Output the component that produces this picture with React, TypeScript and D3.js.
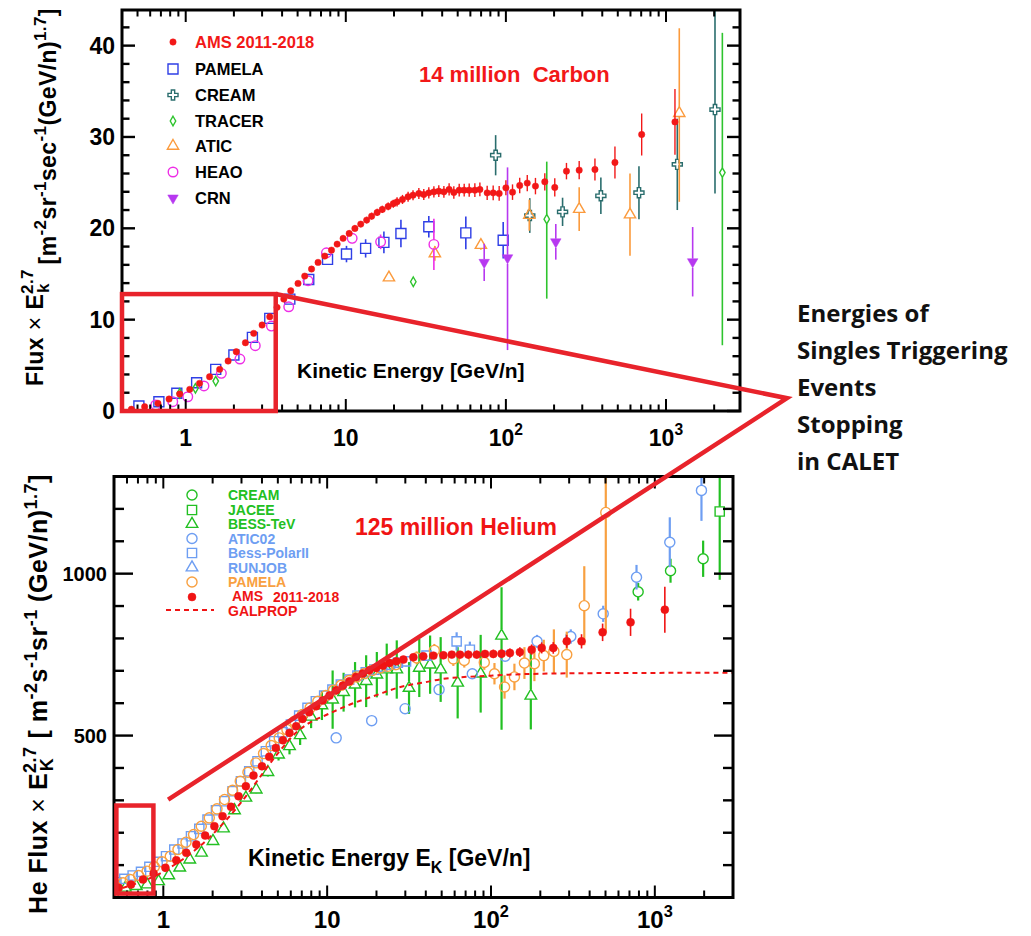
import * as d3 from "d3";

type Pt = number[]; // [energy GeV/n, flux, errLow, errHigh?]
type Shape = "dot" | "square" | "circle" | "triangle" | "triangleDown" | "diamond" | "cross" | "none";

// ---------- Carbon panel ----------
const carbonAms: Pt[] = [
  [0.458, 0.19, 0.05], [0.554, 0.47, 0.05], [0.671, 0.84, 0.06], [0.787, 1.31, 0.07], [0.917, 1.86, 0.08],
  [1.06, 2.37, 0.09], [1.22, 3.03, 0.1], [1.41, 3.75, 0.1], [1.63, 4.56, 0.12], [1.84, 5.47, 0.12],
  [2.07, 6.49, 0.13], [2.36, 7.47, 0.14], [2.66, 8.5, 0.15], [3.0, 9.41, 0.16], [3.35, 10.32, 0.17],
  [3.72, 11.35, 0.18], [4.1, 12.25, 0.2], [4.53, 13.16, 0.2], [5.03, 13.97, 0.22], [5.54, 14.77, 0.22],
  [6.11, 15.54, 0.24], [6.71, 16.27, 0.25], [7.39, 16.96, 0.26], [8.14, 17.61, 0.28], [8.83, 18.27, 0.3],
  [9.62, 18.9, 0.3], [10.5, 19.44, 0.32], [11.4, 19.99, 0.34], [12.4, 20.46, 0.35], [13.5, 20.9, 0.36],
  [14.5, 21.33, 0.38], [15.7, 21.74, 0.4], [16.9, 22.07, 0.4], [18.4, 22.4, 0.42], [19.8, 22.7, 0.44],
  [20.9, 22.9, 0.5], [22.6, 23.16, 0.5], [24.5, 23.45, 0.55], [26.3, 23.63, 0.55], [28.6, 23.82, 0.6],
  [30.7, 23.7, 0.6], [33.0, 23.88, 0.62], [35.5, 23.99, 0.62], [38.1, 24.07, 0.64], [41.0, 23.99, 0.65],
  [44.2, 24.26, 0.66], [47.3, 23.93, 0.68], [51.1, 24.18, 0.7], [54.9, 24.18, 0.7], [59.0, 24.18, 0.72],
  [64.0, 24.18, 0.74], [68.8, 24.26, 0.75], [76.4, 23.88, 0.78], [83.3, 23.88, 0.8], [90.8, 23.82, 0.8],
  [100, 24.43, 0.82], [110, 23.96, 0.85], [122, 24.69, 0.85], [136, 24.95, 0.88], [153, 24.62, 0.9],
  [175, 25.09, 0.95], [202, 24.48, 1.0], [239, 26.26, 0.9], [287, 26.37, 1.0], [360, 26.44, 1.2],
  [480, 27.21, 1.75], [705, 30.27, 2.3], [1138, 31.65, 3.6],
];
const carbonPamela: Pt[] = [
  [0.51, 0.55, 0.1], [0.68, 1.02, 0.1], [0.88, 1.94, 0.12], [1.17, 3.1, 0.15], [1.54, 4.56, 0.2],
  [2.0, 6.13, 0.25], [2.61, 8.06, 0.3], [3.35, 10.14, 0.35], [4.47, 12.25, 0.4], [5.87, 14.4, 0.45],
  [7.69, 16.6, 0.55], [10.1, 17.18, 0.9], [13.3, 17.8, 1.0], [17.3, 18.46, 1.2], [22.1, 19.44, 1.5],
  [33.0, 20.17, 1.17], [56.2, 19.5, 1.8], [96.2, 18.7, 2.0],
];
const carbonCream: Pt[] = [
  [86.3, 28.0, 2.2], [141, 21.4, 1.9], [226, 21.8, 1.55], [392, 23.56, 2.0], [678, 23.9, 2.9],
  [1177, 27.0, 5.0], [2024, 33.0, 9.2, 12],
];
const carbonTracer: Pt[] = [
  [0.917, 1.94, 0], [1.15, 2.48, 0], [1.54, 3.28, 0], [26.4, 14.15, 0], [180, 21.0, 8.7, 6.3], [2250, 26.1, 18.9, 15.3],
];
const carbonAtic: Pt[] = [
  [18.6, 14.6, 0.3], [36, 17.25, 0.8], [69.8, 18.16, 0.5], [140, 21.44, 1.7], [287, 22.1, 2.4],
  [596, 21.5, 4.5], [1211, 32.6, 9.7, 9.3],
];
const carbonHeao: Pt[] = [
  [0.65, 0.66, 0], [0.83, 1.02, 0], [1.03, 1.56, 0], [1.3, 2.74, 0.1], [1.67, 4.12, 0.12], [2.18, 5.69, 0.15],
  [2.72, 7.15, 0.2], [3.43, 9.3, 0.25], [4.4, 11.41, 0.3], [5.81, 14.26, 0.35], [7.57, 17.32, 0.45],
  [10.96, 18.9, 0.55], [16.5, 18.52, 0.8], [35.5, 18.24, 2.8],
];
const carbonCrn: Pt[] = [
  [73.2, 16.27, 2.05], [102.4, 16.77, 10.1, 9.9], [205, 18.52, 1.95], [1468, 16.34, 3.8],
];

// ---------- Helium panel ----------
const heCream: Pt[] = [[791, 944, 27], [1247, 1009, 37], [1972, 1046, 56]];
const heJacee: Pt[] = [[2489, 1192, 211, 150]];
const heBessTev: Pt[] = [
  [0.498, 9.3, 2], [0.587, 30, 2], [0.684, 35, 2], [0.796, 40, 2], [0.936, 50, 3], [1.08, 68, 3],
  [1.26, 92, 4], [1.45, 117, 4], [1.71, 138, 5], [2.01, 174, 6], [2.33, 213, 7], [2.72, 269, 8],
  [3.19, 308, 10], [3.69, 333, 11], [4.35, 387, 13], [5.05, 441, 18], [5.89, 467, 25], [6.84, 501, 30],
  [7.98, 558, 35], [9.29, 593, 45], [10.8, 611, 90], [12.6, 634, 60], [14.8, 657, 70], [17.3, 668, 80],
  [20.1, 688, 70], [23.1, 704, 80], [26.6, 704, 90], [31.6, 647, 80], [36.5, 709, 90], [42.5, 719, 90],
  [49.3, 704, 100], [62.6, 663, 110], [86.5, 691, 120], [116, 808, 290, 150], [175, 623, 104, 137],
];
const heAtic02: Pt[] = [
  [11.35, 493, 8], [18.7, 546, 8], [29.9, 583, 10], [48.2, 642, 12], [76.9, 691, 14], [122, 745, 16],
  [191, 791, 20], [307, 806, 22], [484, 876, 25], [773, 989, 38], [1234, 1097, 77], [1926, 1257, 94, 60],
];
const heBessPolar: Pt[] = [
  [0.517, 47.2, 2], [0.578, 57.7, 2], [0.65, 67.9, 2], [0.731, 79.3, 2], [0.822, 94.8, 2], [0.923, 110.2, 2],
  [1.039, 127.5, 2], [1.167, 148.1, 3], [1.311, 166.7, 3], [1.476, 189.2, 3], [1.658, 212, 3], [1.862, 240.7, 4],
  [2.096, 269.4, 4], [2.355, 297.2, 4], [2.647, 328.1, 5], [2.977, 359, 5], [3.345, 389.8, 5], [3.758, 420.7, 6],
  [4.227, 451.5, 6], [4.75, 482.4, 6], [5.34, 510.2, 7], [6.01, 534, 7], [6.75, 561.7, 8], [7.59, 585.5, 8],
  [8.53, 605.9, 9], [9.59, 623.5, 9], [10.77, 642, 10], [12.12, 657.4, 10], [13.62, 672.8, 11], [15.3, 685.2, 11],
  [17.2, 695.4, 12], [19.4, 703.7, 12], [21.7, 713, 13], [24.2, 719, 14], [27.0, 725, 15], [30.3, 729, 16],
  [40.4, 747, 15], [61.7, 791, 28], [74.3, 765, 25],
];
const heRunjob: Pt[] = [];
const hePamela: Pt[] = [
  [0.51, 34.9, 3], [0.568, 45.3, 3], [0.629, 55.6, 3], [0.707, 67.9, 3], [0.796, 81.2, 3], [0.881, 94.8, 3],
  [0.982, 110.2, 3], [1.103, 127.5, 3], [1.229, 148.1, 3], [1.375, 170.7, 4], [1.53, 194.4, 4], [1.705, 220.1, 4],
  [1.908, 246, 4], [2.126, 273.8, 5], [2.365, 302.5, 5], [2.647, 331.2, 5], [2.948, 359, 5], [3.285, 386.7, 6],
  [3.673, 415.7, 6], [4.09, 444.4, 6], [4.555, 469.1, 7], [5.098, 492.9, 7], [5.68, 518.5, 8], [6.32, 544.1, 8],
  [7.07, 564.8, 9], [7.87, 585.5, 9], [8.77, 605.9, 10], [9.82, 623.5, 10], [10.93, 639.8, 11], [12.17, 655.2, 11],
  [13.62, 669.8, 12], [15.17, 681.2, 12], [16.88, 691.4, 13], [18.89, 701.5, 14], [21.04, 708.9, 15],
  [23.44, 713.9, 16], [26.23, 719.1, 17], [35.2, 740, 20], [45.1, 763, 20], [58.9, 737, 22], [68.7, 732, 22],
  [91.0, 726, 23], [105, 691, 33], [121, 650, 36], [139, 681, 41], [160, 724, 49], [184, 722, 54],
  [210, 747, 49], [242, 760, 68], [290, 750, 71], [371, 901, 122], [502, 1189, 370, 300],
];
const heAms: Pt[] = [
  [0.534, 29.9, 2], [0.635, 40.1, 2], [0.752, 55.6, 2], [0.873, 74.1, 2], [1.03, 91.7, 2], [1.2, 115.1, 3],
  [1.38, 138, 3], [1.59, 163.6, 3], [1.8, 191.4, 3], [2.05, 220.1, 4], [2.3, 250.9, 4], [2.59, 279.9, 4],
  [2.88, 312.7, 5], [3.19, 343.5, 5], [3.55, 376.5, 5], [4.0, 405.2, 6], [4.43, 434.3, 6], [4.86, 462, 6],
  [5.37, 485.5, 7], [5.89, 508.3, 7], [6.47, 528.7, 7], [7.07, 551.5, 8], [7.77, 571.9, 8], [8.57, 590.4, 8],
  [9.41, 608, 9], [10.33, 623.5, 9], [11.35, 639.8, 9], [12.47, 654.3, 10], [13.68, 667.6, 10], [15.03, 681.2, 10],
  [16.5, 691.4, 10], [18.1, 701.5, 10], [19.9, 708.9, 10], [21.9, 716, 10], [24.0, 724.4, 10], [26.4, 729.3, 10],
  [29.2, 734.6, 10], [33.6, 741.7, 10], [38.6, 744.8, 10], [44.5, 746.9, 10], [51.2, 747.8, 11], [57.6, 750, 11],
  [64.7, 750, 11], [72.7, 750, 12], [81.8, 750, 12], [91.9, 752.2, 12], [103.3, 752.2, 13], [116, 753, 13],
  [130.5, 755.2, 14], [150, 757.7, 15], [177, 765.4, 16], [204, 770.7, 17], [240, 770.7, 18], [290, 791, 20],
  [357, 791, 22], [480, 818.8, 27], [711, 849.7, 42], [1151, 888.9, 71],
];
const heGalprop: Pt[] = [
  [0.5, 22], [1, 80], [2, 195], [3, 295], [4, 380], [5, 445], [6.5, 510], [7.5, 534], [10, 565], [13.8, 596],
  [20, 625], [28, 650], [40, 665], [51, 675], [100, 685], [165, 690], [500, 693], [3000, 694],
];

// ---------- axes, annotations ----------
const xTickLabels = [1, 10, 100, 1000];
const carbonYTicks = [0, 10, 20, 30, 40];
const heliumYTicks = [500, 1000];
// zoom boxes and callout in data units of each panel
const carbonBox = { e0: 0.4, e1: 3.65, f0: 0, f1: 12.8 };
const heliumBox = { e0: 0.517, e1: 0.87, f0: 12, f1: 284 };
const calloutTip = [5700, 1.4]; // carbon panel units
const calloutEnd = [1.07, 302]; // helium panel units
const noteLines = ["Energies of", "Singles Triggering", "Events", "Stopping", "in CALET"];

const FONT = "'Liberation Sans', Arial, Helvetica, sans-serif";
const ANNOT = "#e8232b";

interface SeriesSpec { name: string; data: Pt[]; color: string; shape: Shape; size: number; filled?: boolean; bar: number }

const carbonSeries: SeriesSpec[] = [
  { name: "AMS 2011-2018", data: carbonAms, color: "#f21818", shape: "dot", size: 32, filled: true, bar: 1.4 },
  { name: "PAMELA", data: carbonPamela, color: "#2f3fe6", shape: "square", size: 100, bar: 1.6 },
  { name: "CREAM", data: carbonCream, color: "#2a6d6d", shape: "cross", size: 56, bar: 1.6 },
  { name: "TRACER", data: carbonTracer, color: "#2ec42e", shape: "diamond", size: 26, bar: 1.6 },
  { name: "ATIC", data: carbonAtic, color: "#fb9a3c", shape: "triangle", size: 55, bar: 1.6 },
  { name: "HEAO", data: carbonHeao, color: "#ee2ee6", shape: "circle", size: 72, bar: 1.6 },
  { name: "CRN", data: carbonCrn, color: "#b738f0", shape: "triangleDown", size: 48, filled: true, bar: 1.6 },
];
const heliumSeries: SeriesSpec[] = [
  { name: "CREAM", data: heCream, color: "#22c022", shape: "circle", size: 80, bar: 2.2 },
  { name: "JACEE", data: heJacee, color: "#22c022", shape: "square", size: 85, bar: 2.2 },
  { name: "BESS-TeV", data: heBessTev, color: "#22c022", shape: "triangle", size: 58, bar: 2.2 },
  { name: "ATIC02", data: heAtic02, color: "#6e9ef2", shape: "circle", size: 80, bar: 2.2 },
  { name: "Bess-PolarII", data: heBessPolar, color: "#6e9ef2", shape: "square", size: 85, bar: 2.2 },
  { name: "RUNJOB", data: heRunjob, color: "#6e9ef2", shape: "triangle", size: 58, bar: 2.2 },
  { name: "PAMELA", data: hePamela, color: "#f8a040", shape: "circle", size: 80, bar: 2.2 },
  { name: "AMS 2011-2018", data: heAms, color: "#f01414", shape: "dot", size: 50, filled: true, bar: 1.6 },
];

function symbolPath(shape: Shape, size: number) {
  const type =
    shape === "square" ? d3.symbolSquare
    : shape === "cross" ? d3.symbolCross
    : shape === "diamond" ? d3.symbolDiamond
    : shape === "triangle" || shape === "triangleDown" ? d3.symbolTriangle
    : d3.symbolCircle;
  return d3.symbol().type(type).size(size)() ?? "";
}

// half extent of a marker above / below its centre, so error bars stop at the outline
function markerGap(shape: Shape, size: number): [number, number] {
  if (shape === "square") return [Math.sqrt(size) / 2, Math.sqrt(size) / 2];
  if (shape === "cross") { const r = Math.sqrt(size / 5) / 2; return [3 * r, 3 * r]; }
  if (shape === "diamond") { const h = Math.sqrt(size / (2 * Math.tan(Math.PI / 6))); return [h, h]; }
  if (shape === "triangle" || shape === "triangleDown") {
    const t = Math.sqrt(size / (3 * Math.sqrt(3)));
    return shape === "triangle" ? [2 * t, t] : [t, 2 * t];
  }
  if (shape === "dot") return [0, 0];
  const r = Math.sqrt(size / Math.PI);
  return [r, r];
}

function Marker({ s, cx, cy }: { s: SeriesSpec; cx: number; cy: number }) {
  return (
    <path
      d={symbolPath(s.shape, s.size)}
      transform={`translate(${cx},${cy})${s.shape === "triangleDown" ? " rotate(180)" : ""}`}
      fill={s.filled ? s.color : "none"}
      stroke={s.color}
      strokeWidth={s.filled ? 0.5 : 1.4}
    />
  );
}

function SeriesMarks({ s, x, y }: { s: SeriesSpec; x: d3.ScaleLogarithmic<number, number>; y: d3.ScaleLinear<number, number> }) {
  const [gapUp, gapDown] = markerGap(s.shape, s.size);
  return (
    <g>
      {s.data.map((p, i) => {
        const [e, v, lo = 0, hi = lo] = p;
        const cx = x(e);
        const cy = y(v);
        const yTop = y(v + hi);
        const yBot = y(v - lo);
        return (
          <g key={i}>
            {cy - gapUp > yTop ? <line x1={cx} x2={cx} y1={yTop} y2={cy - gapUp} stroke={s.color} strokeWidth={s.bar} /> : null}
            {yBot > cy + gapDown ? <line x1={cx} x2={cx} y1={cy + gapDown} y2={yBot} stroke={s.color} strokeWidth={s.bar} /> : null}
            <Marker s={s} cx={cx} cy={cy} />
          </g>
        );
      })}
    </g>
  );
}

function logMinorTicks(domain: number[]) {
  const out: { v: number; major: boolean }[] = [];
  for (let k = -1; k <= 4; k++) {
    for (let m = 1; m <= 9; m++) {
      const v = m * Math.pow(10, k);
      if (v > domain[0] && v < domain[1]) out.push({ v, major: m === 1 });
    }
  }
  return out;
}

function Frame({ x, y, minorStep, majorStep, tick }: {
  x: d3.ScaleLogarithmic<number, number>; y: d3.ScaleLinear<number, number>; minorStep: number; majorStep: number;
  tick: { xMaj: number; xMin: number; yMaj: number; yMin: number };
}) {
  const [l, r] = x.range();
  const [b, t] = y.range();
  const xt = logMinorTicks(x.domain());
  const yt = d3.range(y.domain()[0], y.domain()[1] + 1e-9, minorStep).map((v) => ({ v, major: Math.abs(v / majorStep - Math.round(v / majorStep)) < 1e-6 }));
  return (
    <g stroke="#000" fill="none">
      {xt.map((d) => {
        const len = d.major ? tick.xMaj : tick.xMin;
        return (
          <g key={`x${d.v}`}>
            <line x1={x(d.v)} x2={x(d.v)} y1={b} y2={b - len} strokeWidth={2} />
            <line x1={x(d.v)} x2={x(d.v)} y1={t} y2={t + len} strokeWidth={2} />
          </g>
        );
      })}
      {yt.map((d) => {
        const len = d.major ? tick.yMaj : tick.yMin;
        return (
          <g key={`y${d.v}`}>
            <line x1={l} x2={l + len} y1={y(d.v)} y2={y(d.v)} strokeWidth={2.4} />
            <line x1={r} x2={r - len} y1={y(d.v)} y2={y(d.v)} strokeWidth={2.4} />
          </g>
        );
      })}
      <rect x={l} y={t} width={r - l} height={b - t} strokeWidth={3} />
    </g>
  );
}

function XLabels({ x, baseline, size }: { x: d3.ScaleLogarithmic<number, number>; baseline: number; size: number }) {
  return (
    <g fontFamily={FONT} fontWeight="bold" fontSize={size} textAnchor="middle" fill="#000">
      {xTickLabels.map((t) => (
        <text key={t} x={x(t)} y={baseline}>
          {t < 100 ? String(t) : (
            <>
              10<tspan dy={-11} fontSize={size * 0.68}>{Math.round(Math.log10(t))}</tspan>
            </>
          )}
        </text>
      ))}
    </g>
  );
}

export default function App() {
  const xC = d3.scaleLog().domain([0.4, 2900]).range([122, 740]);
  const yC = d3.scaleLinear().domain([0, 43.9]).range([411, 10]);
  const xH = d3.scaleLog().domain([0.5, 3000]).range([114, 733]);
  const yH = d3.scaleLinear().domain([0, 1300]).range([897.5, 476.5]);

  const galpropLine = d3.line<Pt>().x((p) => xH(p[0])).y((p) => yH(p[1])).curve(d3.curveMonotoneX);

  const ams = carbonSeries[0];
  const heAmsSpec = heliumSeries[heliumSeries.length - 1];

  const carbonLegendY = [42, 69, 95, 121, 146, 172, 198];
  const heliumLegendY = [495, 510, 524, 538.5, 553, 567.5, 582, 597];

  return (
    <div style={{ position: "absolute", left: 0, top: 0, width: 1031, height: 936, background: "#fff" }}>
      <svg width={1031} height={936} viewBox="0 0 1031 936" style={{ display: "block" }}>
        <defs>
          <clipPath id="clipC"><rect x={122} y={10} width={618} height={401} /></clipPath>
          <clipPath id="clipH"><rect x={114} y={476.5} width={619} height={421} /></clipPath>
        </defs>
        <rect width={1031} height={936} fill="#fff" />

        {/* ---------- Carbon panel ---------- */}
        <g clipPath="url(#clipC)">
          {carbonSeries.slice(1).map((s) => <SeriesMarks key={s.name} s={s} x={xC} y={yC} />)}
          <SeriesMarks s={ams} x={xC} y={yC} />
        </g>
        <Frame x={xC} y={yC} minorStep={2} majorStep={10} tick={{ xMaj: 12, xMin: 6.5, yMaj: 13, yMin: 7.5 }} />
        <g fontFamily={FONT} fontWeight="bold" fontSize={23} textAnchor="end">
          {carbonYTicks.map((t) => <text key={t} x={115} y={yC(t) + 8}>{t}</text>)}
        </g>
        <XLabels x={xC} baseline={446} size={23} />

        <g fontFamily={FONT} fontWeight="bold" fontSize={16.5}>
          {carbonSeries.map((s, i) => (
            <g key={s.name}>
              <Marker s={s} cx={173} cy={carbonLegendY[i]} />
              <text x={195} y={carbonLegendY[i] + 6} fill={i === 0 ? s.color : "#000"}>{s.name}</text>
            </g>
          ))}
        </g>
        <text x={419} y={82} fontFamily={FONT} fontWeight="bold" fontSize={22} fill="#f21818" style={{ whiteSpace: "pre" }}>14 million  Carbon</text>
        <text x={297} y={378} fontFamily={FONT} fontWeight="bold" fontSize={21} fill="#000">Kinetic Energy [GeV/n]</text>

        <text transform="translate(43,197) rotate(-90)" textAnchor="middle" fontFamily={FONT} fontWeight="bold" fontSize={23} fill="#000" style={{ letterSpacing: "0.4px" }}>
          <tspan>Flux </tspan>
          <tspan fontWeight="normal">×</tspan>
          <tspan> E</tspan>
          <tspan fontSize={17} dy={-10}>2.7</tspan>
          <tspan fontSize={17} dx={-24} dy={16}>k</tspan>
          <tspan dx={12} dy={7}> [m</tspan>
          <tspan fontSize={17} dy={-10}>-2</tspan>
          <tspan dy={10}>sr</tspan>
          <tspan fontSize={17} dy={-10}>-1</tspan>
          <tspan dy={10}>sec</tspan>
          <tspan fontSize={17} dy={-10}>-1</tspan>
          <tspan dy={10}>(GeV/n)</tspan>
          <tspan fontSize={17} dy={-10}>1.7</tspan>
          <tspan dy={10}>]</tspan>
        </text>

        {/* ---------- Helium panel ---------- */}
        <g clipPath="url(#clipH)">
          {heliumSeries.slice(0, -1).map((s) => <SeriesMarks key={s.name} s={s} x={xH} y={yH} />)}
          <path d={galpropLine(heGalprop) ?? ""} fill="none" stroke="#f01414" strokeWidth={2} strokeDasharray="5 4" />
          <SeriesMarks s={heAmsSpec} x={xH} y={yH} />
        </g>
        <Frame x={xH} y={yH} minorStep={100} majorStep={500} tick={{ xMaj: 12, xMin: 7, yMaj: 19, yMin: 10 }} />
        <g fontFamily={FONT} fontWeight="bold" fontSize={20} textAnchor="end">
          {heliumYTicks.map((t) => <text key={t} x={107} y={yH(t) + 7}>{t}</text>)}
        </g>
        <XLabels x={xH} baseline={928} size={24} />

        <g fontFamily={FONT} fontWeight="bold" fontSize={14}>
          {heliumSeries.map((s, i) => (
            <g key={s.name}>
              <Marker s={s} cx={192} cy={heliumLegendY[i]} />
              {s.shape === "dot" ? (
                <text x={232} y={heliumLegendY[i] + 4} fill={s.color}>
                  AMS<tspan x={273} dy={1}>2011-2018</tspan>
                </text>
              ) : (
                <text x={228} y={heliumLegendY[i] + 5} fill={s.color}>{s.name}</text>
              )}
            </g>
          ))}
          <line x1={166} x2={214} y1={610} y2={610} stroke="#f01414" strokeWidth={2} strokeDasharray="5 4" />
          <text x={228} y={616} fill="#f01414">GALPROP</text>
        </g>
        <text x={355} y={535} fontFamily={FONT} fontWeight="bold" fontSize={23} fill="#f01414">125 million Helium</text>
        <text x={248} y={866} fontFamily={FONT} fontWeight="bold" fontSize={23} fill="#000">
          Kinetic Energy E<tspan fontSize={16} dy={7}>K</tspan><tspan dy={-7}> [GeV/n]</tspan>
        </text>

        <text transform="translate(47,694) rotate(-90)" textAnchor="middle" fontFamily={FONT} fontWeight="bold" fontSize={25} fill="#000" style={{ letterSpacing: "0.5px" }}>
          <tspan>He Flux </tspan>
          <tspan fontWeight="normal">×</tspan>
          <tspan> E</tspan>
          <tspan fontSize={18} dy={-11}>2.7</tspan>
          <tspan fontSize={18} dx={-25} dy={17}>K</tspan>
          <tspan dx={12} dy={-6}> [ m</tspan>
          <tspan fontSize={18} dy={-10}>-2</tspan>
          <tspan dy={10}>s</tspan>
          <tspan fontSize={18} dy={-10}>-1</tspan>
          <tspan dy={10}>sr</tspan>
          <tspan fontSize={18} dy={-10}>-1</tspan>
          <tspan dy={10}> (GeV/n)</tspan>
          <tspan fontSize={18} dy={-10}>1.7</tspan>
          <tspan dy={10}>]</tspan>
        </text>

        {/* ---------- zoom boxes and callout ---------- */}
        <g fill="none" stroke={ANNOT} strokeWidth={4.5}>
          <rect x={xC(carbonBox.e0)} y={yC(carbonBox.f1)} width={xC(carbonBox.e1) - xC(carbonBox.e0)} height={yC(carbonBox.f0) - yC(carbonBox.f1)} />
          <rect x={xH(heliumBox.e0)} y={yH(heliumBox.f1)} width={xH(heliumBox.e1) - xH(heliumBox.e0)} height={yH(heliumBox.f0) - yH(heliumBox.f1)} />
          <polyline
            points={[
              [xC(carbonBox.e1), yC(carbonBox.f1)],
              [xC(calloutTip[0]), yC(calloutTip[1])],
              [xH(calloutEnd[0]), yH(calloutEnd[1])],
            ].map((p) => p.join(",")).join(" ")}
            strokeLinejoin="miter"
          />
        </g>

        <g fontFamily="'Open Sans', 'Noto Sans', sans-serif" fontWeight={700} fontSize={24} fill="#111">
          {noteLines.map((line, i) => <text key={line} x={797} y={322 + i * 37}>{line}</text>)}
        </g>
      </svg>
    </div>
  );
}
